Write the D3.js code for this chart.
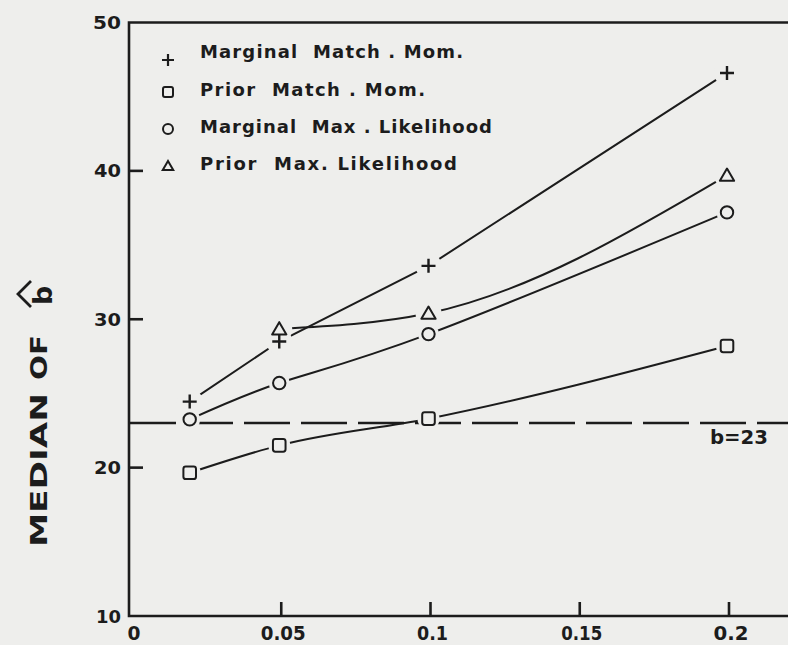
<!DOCTYPE html>
<html>
<head>
<meta charset="utf-8">
<script src="https://cdn.jsdelivr.net/npm/d3@7"></script>
<style>
  html, body { margin: 0; padding: 0; background: #eeeeec; }
  svg { display: block; }
  text { font-family: "DejaVu Sans", "Liberation Sans", Arial, sans-serif; font-weight: bold; fill: #1c1c1c; }
</style>
</head>
<body>
<svg id="chart" width="788" height="645"></svg>
<script>
// Proportion of censored observations (x) at which each estimator was evaluated
const xValues = [0.02, 0.05, 0.1, 0.2];

// Median of the estimate of b for each estimation method
const marginalMatchMom = [24.45, 28.5, 33.6, 46.6];
const priorMatchMom    = [19.65, 21.5, 23.3, 28.2];
const marginalMaxLik   = [23.25, 25.7, 29.0, 37.2];
const priorMaxLik      = [null, 29.35, 30.4, 39.7];

const seriesNames = [
  "Marginal  Match . Mom.",
  "Prior  Match . Mom.",
  "Marginal  Max . Likelihood",
  "Prior  Max. Likelihood"
];

const xTicks = [0, 0.05, 0.1, 0.15, 0.2];
const xTickLabels = ["0", "0.05", "0.1", "0.15", "0.2"];
const yTicks = [10, 20, 30, 40, 50];
const yTickLabels = ["10", "20", "30", "40", "50"];
const trueB = 23;

const BG = "#eeeeec";
const INK = "#1c1c1c";

const svg = d3.select("#chart");
const W = 788;

const x = d3.scaleLinear().domain([0, 0.2]).range([130, 727]);
const y = d3.scaleLinear().domain([10, 50]).range([616, 22.5]);

svg.append("rect").attr("width", W).attr("height", 645).attr("fill", BG);

// ---- marker shapes (s = half size) ----
function markerPath(kind, s) {
  if (kind === "plus") {
    return `M${-s},0H${s}M0,${-s}V${s}`;
  }
  if (kind === "square") {
    const r = s * 0.38;
    return `M${-s + r},${-s}H${s - r}Q${s},${-s} ${s},${-s + r}V${s - r}Q${s},${s} ${s - r},${s}` +
           `H${-s + r}Q${-s},${s} ${-s},${s - r}V${-s + r}Q${-s},${-s} ${-s + r},${-s}Z`;
  }
  if (kind === "circle") {
    return `M${s},0A${s},${s} 0 1,1 ${-s},0A${s},${s} 0 1,1 ${s},0Z`;
  }
  const h = s * 1.8;
  return `M0,${-h * 0.55}L${s * 1.05},${h * 0.45}L${-s * 1.05},${h * 0.45}Z`;
}

const series = [
  { name: seriesNames[0], values: marginalMatchMom, kind: "plus",     curve: d3.curveLinear,     halo: 13,   size: 7 },
  { name: seriesNames[1], values: priorMatchMom,    kind: "square",   curve: d3.curveMonotoneX,  halo: 11,   size: 6.3 },
  { name: seriesNames[2], values: marginalMaxLik,   kind: "circle",   curve: d3.curveNatural,    halo: 10.5, size: 6.2 },
  { name: seriesNames[3], values: priorMaxLik,      kind: "triangle", curve: d3.curveMonotoneX,  halo: 13,   size: 6.8 }
];

// ---- reference level b = 23 ----
svg.append("line")
  .attr("x1", x(0)).attr("x2", W + 5)
  .attr("y1", y(trueB)).attr("y2", y(trueB))
  .attr("stroke", INK).attr("stroke-width", 2.5)
  .attr("stroke-dasharray", "46,11");

svg.append("text")
  .attr("x", 710).attr("y", 444)
  .attr("font-size", 20)
  .attr("textLength", 58).attr("lengthAdjust", "spacingAndGlyphs")
  .text("b=23");

// ---- series lines ----
series.forEach(s => {
  const pts = xValues.map((xv, i) => [xv, s.values[i]]).filter(d => d[1] != null);
  const line = d3.line().x(d => x(d[0])).y(d => y(d[1])).curve(s.curve);
  svg.append("path")
    .attr("d", line(pts))
    .attr("fill", "none")
    .attr("stroke", INK)
    .attr("stroke-width", 2);
});

// ---- gaps around the markers ----
series.forEach(s => {
  const pts = xValues.map((xv, i) => [xv, s.values[i]]).filter(d => d[1] != null);
  svg.selectAll(null).data(pts).enter().append("circle")
    .attr("cx", d => x(d[0])).attr("cy", d => y(d[1]))
    .attr("r", s.halo).attr("fill", BG);
});

// ---- markers ----
series.forEach(s => {
  const pts = xValues.map((xv, i) => [xv, s.values[i]]).filter(d => d[1] != null);
  svg.selectAll(null).data(pts).enter().append("path")
    .attr("transform", d => `translate(${x(d[0])},${y(d[1])})`)
    .attr("d", markerPath(s.kind, s.size))
    .attr("fill", "none")
    .attr("stroke", INK)
    .attr("stroke-width", s.kind === "plus" ? 2.4 : 2)
    .attr("stroke-linejoin", "round");
});

// ---- frame / axes ----
const frame = svg.append("g").attr("stroke", INK).attr("stroke-width", 2.6).attr("fill", "none");
frame.append("path").attr("d", `M${W + 5},${y(50)}H${x(0) - 1}V${y(10)}H${W + 5}`);

// inward ticks
yTicks.filter(v => v > 10 && v < 50).forEach(v => {
  frame.append("line").attr("x1", x(0)).attr("x2", x(0) + 13)
    .attr("y1", y(v)).attr("y2", y(v));
});
xTicks.filter(v => v > 0).forEach(v => {
  frame.append("line").attr("x1", x(v) + 2).attr("x2", x(v) + 2)
    .attr("y1", y(10)).attr("y2", y(10) - 14);
});

// tick labels
const yLabelWidths = { "10": 25, "20": 27, "30": 27, "40": 27, "50": 28 };
yTicks.forEach((v, i) => {
  svg.append("text")
    .attr("x", 121).attr("y", y(v))
    .attr("text-anchor", "end")
    .attr("dominant-baseline", "central")
    .attr("font-size", 18)
    .attr("textLength", yLabelWidths[yTickLabels[i]]).attr("lengthAdjust", "spacingAndGlyphs")
    .text(yTickLabels[i]);
});

const xLabelWidths = { "0": 13, "0.05": 45, "0.1": 31, "0.15": 41, "0.2": 35 };
xTicks.forEach((v, i) => {
  const w = xLabelWidths[xTickLabels[i]];
  svg.append("text")
    .attr("x", x(v) + 4 - w / 2).attr("y", 640)
    .attr("font-size", 20)
    .attr("textLength", w).attr("lengthAdjust", "spacingAndGlyphs")
    .text(xTickLabels[i]);
});

// ---- y axis title ----
const yTitle = svg.append("g");
yTitle.append("text")
  .attr("transform", "translate(47,547) rotate(-90)")
  .attr("font-size", 23)
  .attr("textLength", 154).attr("lengthAdjust", "spacingAndGlyphs")
  .text("MEDIAN");
yTitle.append("text")
  .attr("transform", "translate(47,380) rotate(-90)")
  .attr("font-size", 23)
  .attr("textLength", 45).attr("lengthAdjust", "spacingAndGlyphs")
  .text("OF");
yTitle.append("text")
  .attr("transform", "translate(52,305) rotate(-90)")
  .attr("font-size", 27)
  .text("b");
yTitle.append("path")
  .attr("d", "M31,281L18,294L31,307")
  .attr("fill", "none").attr("stroke", INK).attr("stroke-width", 2.8)
  .attr("stroke-linejoin", "miter");

// ---- legend ----
const legendRows = [60, 92, 129, 166];
const legendTextY = [58, 96, 133, 170];
const legendWidths = [263, 225, 292, 257];
series.forEach((s, i) => {
  svg.append("path")
    .attr("transform", `translate(168,${legendRows[i]})`)
    .attr("d", markerPath(s.kind, s.kind === "plus" ? 6 : 5))
    .attr("fill", "none").attr("stroke", INK)
    .attr("stroke-width", s.kind === "plus" ? 2.2 : 2);
  svg.append("text")
    .attr("x", 200).attr("y", legendTextY[i])
    .attr("font-size", 18)
    .attr("textLength", legendWidths[i]).attr("lengthAdjust", "spacing")
    .attr("xml:space", "preserve")
    .text(s.name);
});
</script>
</body>
</html>
